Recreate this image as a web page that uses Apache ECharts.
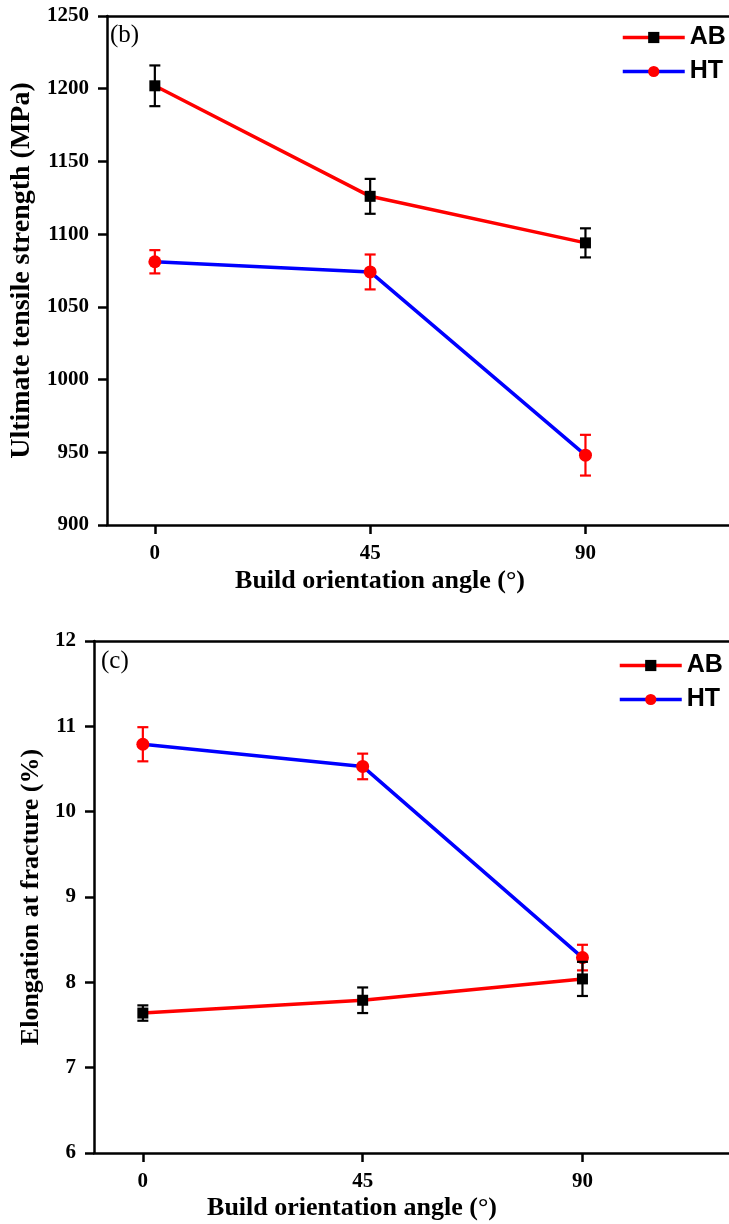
<!DOCTYPE html>
<html>
<head>
<meta charset="utf-8">
<script src="https://cdn.jsdelivr.net/npm/echarts@6/dist/echarts.min.js"></script>
<style>
  html, body { margin: 0; padding: 0; background: #fff; }
  #chart { width: 729px; height: 1224px; }
</style>
</head>
<body>
<div id="chart"></div>
<script>
// Build orientation angles (deg) and the tick values on the x axes
const angles = [0, 45, 90];
const xTicks = [0, 45, 90];

// Ultimate tensile strength (MPa), mean and +/- error
const utsAB = [1202, 1126, 1094];
const utsABErr = [14, 12, 10];
const utsHT = [1081, 1074, 948];
const utsHTErr = [8, 12, 14];

// Elongation at fracture (%), mean and +/- error
const elAB = [7.64, 7.79, 8.04];
const elABErr = [0.09, 0.15, 0.2];
const elHT = [10.79, 10.53, 8.29];
const elHTErr = [0.2, 0.15, 0.15];

const SERIF = '"Liberation Serif", "Times New Roman", serif';
const SANS = '"Liberation Sans", Arial, sans-serif';
const RED = '#ff0000', BLUE = '#0000ff', BLACK = '#000000';

const pairs = (vals) => angles.map((a, i) => [a, vals[i]]);
const ranges = (vals, errs) => angles.map((a, i) => [a, vals[i] - errs[i], vals[i] + errs[i]]);

function errorBar(color) {
  return function (params, api) {
    const x = api.value(0), lo = api.value(1), hi = api.value(2);
    const top = api.coord([x, hi]);
    const bot = api.coord([x, lo]);
    const half = 5.5;
    const style = { stroke: color, lineWidth: 2.2 };
    return {
      type: 'group',
      children: [
        { type: 'line', shape: { x1: top[0], y1: top[1], x2: bot[0], y2: bot[1] }, style },
        { type: 'line', shape: { x1: top[0] - half, y1: top[1], x2: top[0] + half, y2: top[1] }, style },
        { type: 'line', shape: { x1: bot[0] - half, y1: bot[1], x2: bot[0] + half, y2: bot[1] }, style }
      ]
    };
  };
}

const tickFont = { color: BLACK, fontFamily: SERIF, fontWeight: 'bold', fontSize: 21 };
const spine = { onZero: false, lineStyle: { color: BLACK, width: 2.5 } };

function bottomX(gridIndex) {
  return {
    type: 'value', gridIndex, position: 'bottom', min: -10, max: 120,
    axisLine: spine,
    axisTick: { customValues: xTicks, length: 9, lineStyle: { color: BLACK, width: 2.5 } },
    axisLabel: Object.assign({ customValues: xTicks, margin: 18 }, tickFont),
    splitLine: { show: false }
  };
}
function topX(gridIndex) {
  return {
    type: 'value', gridIndex, position: 'top', min: -10, max: 120,
    axisLine: spine, axisTick: { show: false }, axisLabel: { show: false },
    splitLine: { show: false }
  };
}
function leftY(gridIndex, min, max, interval, name, gap, nameSize) {
  return {
    type: 'value', gridIndex, position: 'left', min, max, interval,
    name, nameLocation: 'middle', nameGap: gap, nameRotate: 90,
    nameTextStyle: { color: BLACK, fontFamily: SERIF, fontWeight: 'bold', fontSize: nameSize },
    axisLine: spine,
    axisTick: { length: 9, lineStyle: { color: BLACK, width: 2.5 } },
    axisLabel: Object.assign({ margin: 18, formatter: (v) => String(v) }, tickFont),
    splitLine: { show: false }
  };
}

function lineSeries(name, xi, yi, vals, lineColor, symbol, symbolColor, size) {
  return {
    name, type: 'line', xAxisIndex: xi, yAxisIndex: yi, data: pairs(vals),
    symbol, symbolSize: size, z: 3,
    lineStyle: { color: lineColor, width: 3.5 },
    itemStyle: { color: symbolColor },
    emphasis: { disabled: true }, animation: false
  };
}
function errSeries(name, xi, yi, vals, errs, color, z) {
  return {
    name, type: 'custom', xAxisIndex: xi, yAxisIndex: yi,
    data: ranges(vals, errs), encode: { x: 0, y: [1, 2] },
    renderItem: errorBar(color), z, animation: false
  };
}

const legendBase = {
  orient: 'vertical', itemWidth: 62, itemHeight: 14, itemGap: 9,
  data: ['AB', 'HT'], selectedMode: false,
  lineStyle: { width: 3.5 },
  textStyle: { color: BLACK, fontFamily: SANS, fontWeight: 'bold', fontSize: 25 }
};

const chart = echarts.init(document.getElementById('chart'), null, { renderer: 'canvas' });
chart.setOption({
  backgroundColor: '#ffffff',
  animation: false,
  grid: [
    { left: 107, right: -10, top: 16, height: 509 },
    { left: 94, right: -2, top: 641, height: 512 }
  ],
  xAxis: [bottomX(0), topX(0), bottomX(1), topX(1)],
  yAxis: [
    leftY(0, 900, 1250, 50, 'Ultimate tensile strength (MPa)', 68, 28),
    leftY(1, 6, 12, 1, 'Elongation at fracture (%)', 50, 26)
  ],
  legend: [
    Object.assign({ left: 616, top: 20 }, legendBase),
    Object.assign({ left: 613, top: 648 }, legendBase)
  ],
  graphic: [
    { type: 'text', left: 110, top: 23, style: { text: '(b)', font: '25px ' + SERIF, fill: BLACK } },
    { type: 'text', left: 101, top: 649, style: { text: '(c)', font: '25px ' + SERIF, fill: BLACK } },
    { type: 'text', x: 380, y: 581, style: { text: 'Build orientation angle (°)', font: 'bold 26px ' + SERIF, fill: BLACK, align: 'center', verticalAlign: 'middle' } },
    { type: 'text', x: 352, y: 1208, style: { text: 'Build orientation angle (°)', font: 'bold 26px ' + SERIF, fill: BLACK, align: 'center', verticalAlign: 'middle' } }
  ],
  series: [
    lineSeries('HT', 0, 0, utsHT, BLUE, 'circle', RED, 13),
    errSeries('HT error', 0, 0, utsHT, utsHTErr, RED, 4),
    lineSeries('AB', 0, 0, utsAB, RED, 'rect', BLACK, 11),
    errSeries('AB error', 0, 0, utsAB, utsABErr, BLACK, 5),
    lineSeries('HT', 2, 1, elHT, BLUE, 'circle', RED, 13),
    errSeries('HT error', 2, 1, elHT, elHTErr, RED, 4),
    lineSeries('AB', 2, 1, elAB, RED, 'rect', BLACK, 11),
    errSeries('AB error', 2, 1, elAB, elABErr, BLACK, 5)
  ]
});
</script>
</body>
</html>
